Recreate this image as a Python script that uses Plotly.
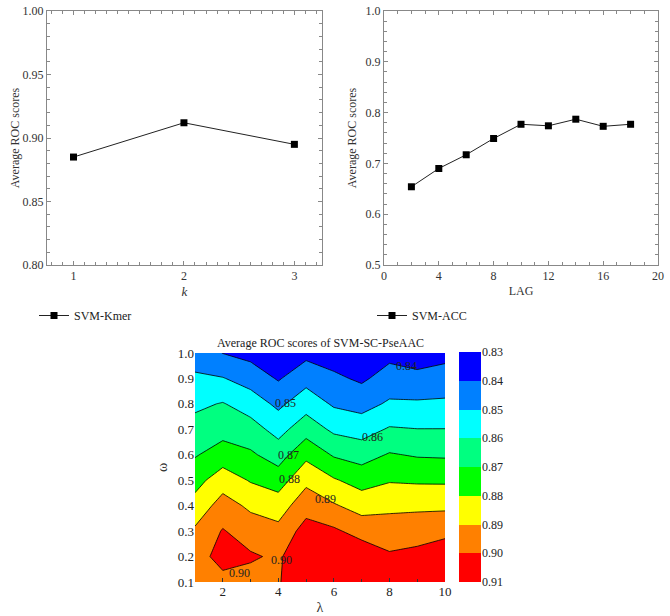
import plotly.graph_objects as go

# ---------------- data ----------------
kmer_k = [1, 2, 3]
kmer_roc = [0.885, 0.912, 0.895]

acc_lag = [2, 4, 6, 8, 10, 12, 14, 16, 18]
acc_roc = [0.654, 0.690, 0.717, 0.749, 0.777, 0.774, 0.787, 0.773, 0.777]

pse_lambda = [1, 2, 3, 4, 5, 6, 7, 8, 9, 10]
pse_omega = [0.1, 0.2, 0.3, 0.4, 0.5, 0.6, 0.7, 0.8, 0.9, 1.0]
# rows: omega 0.1 -> 1.0 ; columns: lambda 1 -> 10
pse_roc = [
    [0.8980, 0.8975, 0.8960, 0.8990, 0.9098, 0.9080, 0.9080, 0.9050, 0.9060, 0.9080],
    [0.8965, 0.9030, 0.9013, 0.8983, 0.9090, 0.9060, 0.9068, 0.9013, 0.9029, 0.9064],
    [0.8915, 0.9007, 0.8950, 0.8928, 0.9040, 0.9016, 0.8963, 0.8948, 0.8957, 0.8973],
    [0.8838, 0.8940, 0.8882, 0.8852, 0.8960, 0.8910, 0.8860, 0.8878, 0.8881, 0.8881],
    [0.8763, 0.8856, 0.8792, 0.8753, 0.8876, 0.8810, 0.8760, 0.8792, 0.8786, 0.8785],
    [0.8692, 0.8744, 0.8715, 0.8655, 0.8775, 0.8689, 0.8660, 0.8708, 0.8691, 0.8687],
    [0.8637, 0.8665, 0.8641, 0.8565, 0.8658, 0.8580, 0.8558, 0.8610, 0.8602, 0.8602],
    [0.8580, 0.8606, 0.8554, 0.8478, 0.8559, 0.8487, 0.8464, 0.8514, 0.8513, 0.8517],
    [0.8516, 0.8505, 0.8458, 0.8391, 0.8466, 0.8419, 0.8384, 0.8441, 0.8429, 0.8442],
    [0.8452, 0.8398, 0.8369, 0.8304, 0.8372, 0.8351, 0.8304, 0.8372, 0.8346, 0.8370],
]

level_edges = [0.83, 0.84, 0.85, 0.86, 0.87, 0.88, 0.89, 0.90, 0.91]
level_colors = ["#0000FF", "#0080FF", "#00FFFF", "#00FF80",
                "#00FF00", "#FFFF00", "#FF8000", "#FF0000"]

# contour labels as printed in the original figure
contour_label_text = ["0.84", "0.85", "0.86", "0.87", "0.88", "0.89", "0.90", "0.90"]
contour_label_lambda = [8.6, 4.25, 7.4, 4.35, 4.4, 5.7, 2.6, 4.1]
contour_label_omega = [0.950, 0.803, 0.670, 0.598, 0.503, 0.427, 0.135, 0.185]

FONT = "Liberation Serif"
W, H = 670, 616


def px_x(a, b):
    return [a / W, b / W]


def px_y(top, bottom):
    return [1 - bottom / H, 1 - top / H]


fig = go.Figure()

fig.add_trace(go.Scatter(
    x=kmer_k, y=kmer_roc, mode="lines+markers", name="SVM-Kmer",
    line=dict(color="#222", width=1),
    marker=dict(symbol="square", size=7, color="black"),
    xaxis="x", yaxis="y", legend="legend", showlegend=True))

fig.add_trace(go.Scatter(
    x=acc_lag, y=acc_roc, mode="lines+markers", name="SVM-ACC",
    line=dict(color="#222", width=1),
    marker=dict(symbol="square", size=7, color="black"),
    xaxis="x2", yaxis="y2", legend="legend2", showlegend=True))

n = len(level_colors)
cscale = [[i / (n - 1), c] for i, c in enumerate(level_colors)]
fig.add_trace(go.Contour(
    x=pse_lambda, y=pse_omega, z=pse_roc,
    xaxis="x3", yaxis="y3",
    colorscale=cscale, showscale=False,
    contours=dict(start=level_edges[1], end=level_edges[-2],
                  size=0.01, coloring="fill", showlabels=False),
    line=dict(color="black", width=0.8, smoothing=0),
    showlegend=False, hoverinfo="skip"))

mids = [(level_edges[i] + level_edges[i + 1]) / 2 for i in range(n)]
fig.add_trace(go.Heatmap(
    x=[0], y=mids, z=[[m] for m in mids],
    colorscale=cscale, zmin=mids[0], zmax=mids[-1],
    showscale=False, xaxis="x4", yaxis="y4", hoverinfo="skip",
    showlegend=False))

tickfont = dict(family=FONT, size=12, color="#333")
axis_common = dict(showline=True, linecolor="#888", linewidth=1, mirror="ticks",
                   ticks="inside", ticklen=4, tickcolor="#888",
                   showgrid=False, zeroline=False, tickfont=tickfont,
                   automargin=False,
                   minor=dict(ticks="inside", ticklen=3, tickcolor="#888"))

annotations = [dict(text="Average ROC scores of SVM-SC-PseAAC",
                    x=320 / W, y=1 - 343 / H, xref="paper", yref="paper",
                    xanchor="center", yanchor="middle", showarrow=False,
                    font=dict(family=FONT, size=12, color="#222"))]
for t, lx, ly in zip(contour_label_text, contour_label_lambda, contour_label_omega):
    annotations.append(dict(text=t, x=lx, y=ly, xref="x3", yref="y3",
                            showarrow=False, xanchor="center", yanchor="middle",
                            font=dict(family=FONT, size=12, color="#222")))

fig.update_layout(
    template="none",
    width=W, height=H, margin=dict(l=0, r=0, t=0, b=0, autoexpand=False),
    paper_bgcolor="white", plot_bgcolor="white", showlegend=True,
    font=dict(family=FONT, size=12, color="#333"),
    xaxis=dict(domain=px_x(47, 322), range=[0.76, 3.25], tickvals=kmer_k,
               title=dict(text="<i>k</i>", standoff=4, font=dict(size=13)),
               anchor="y", **axis_common),
    yaxis=dict(domain=px_y(11, 265), range=[0.80, 1.00], dtick=0.05,
               tickformat=".2f", anchor="x",
               title=dict(text="Average ROC scores", standoff=0,
                          font=dict(size=12)),
               **axis_common),
    xaxis2=dict(domain=px_x(384, 658), range=[0, 20], dtick=4,
                title=dict(text="LAG", standoff=4, font=dict(size=12)),
                anchor="y2", **axis_common),
    yaxis2=dict(domain=px_y(11, 265), range=[0.5, 1.0], dtick=0.1,
                tickformat=".1f", anchor="x2",
                title=dict(text="Average ROC scores", standoff=6,
                           font=dict(size=12)),
                **axis_common),
    xaxis3=dict(domain=px_x(195, 445), range=[1, 10], tickvals=[2, 4, 6, 8, 10],
                anchor="y3", showgrid=False, zeroline=False, showline=False,
                automargin=False,
                ticks="inside", ticklen=4, tickcolor="#333",
                minor=dict(tickvals=[3, 5, 7, 9], ticks="inside", ticklen=3,
                           tickcolor="#333"),
                tickfont=dict(family=FONT, size=13, color="#222"),
                title=dict(text="λ", standoff=4, font=dict(size=14))),
    yaxis3=dict(domain=px_y(353, 582), range=[0.1, 1.0], dtick=0.1,
                tickformat=".1f", anchor="x3", showgrid=False, zeroline=False,
                showline=False, ticks="", automargin=False,
                tickfont=dict(family=FONT, size=13, color="#222"),
                title=dict(text="ω", standoff=6, font=dict(size=14))),
    xaxis4=dict(domain=px_x(459, 481), range=[-0.5, 0.5], visible=False,
                anchor="y4", automargin=False),
    yaxis4=dict(domain=px_y(352, 582), range=[level_edges[-1], level_edges[0]],
                tickvals=level_edges, tickformat=".2f", side="right",
                anchor="x4", showgrid=False, zeroline=False, showline=False,
                ticks="", automargin=False,
                tickfont=dict(family=FONT, size=12, color="#222")),
    legend=dict(x=34 / W, y=1 - 301 / H, xanchor="left", yanchor="top",
                bgcolor="rgba(0,0,0,0)", font=dict(family=FONT, size=12, color="#222")),
    legend2=dict(x=372 / W, y=1 - 301 / H, xanchor="left", yanchor="top",
                 bgcolor="rgba(0,0,0,0)", font=dict(family=FONT, size=12, color="#222")),
    annotations=annotations,
)

fig.write_html("out.html",
               config={"displayModeBar": False},
               post_script="document.body.style.margin='0';"
                           "document.body.style.overflow='hidden';")
